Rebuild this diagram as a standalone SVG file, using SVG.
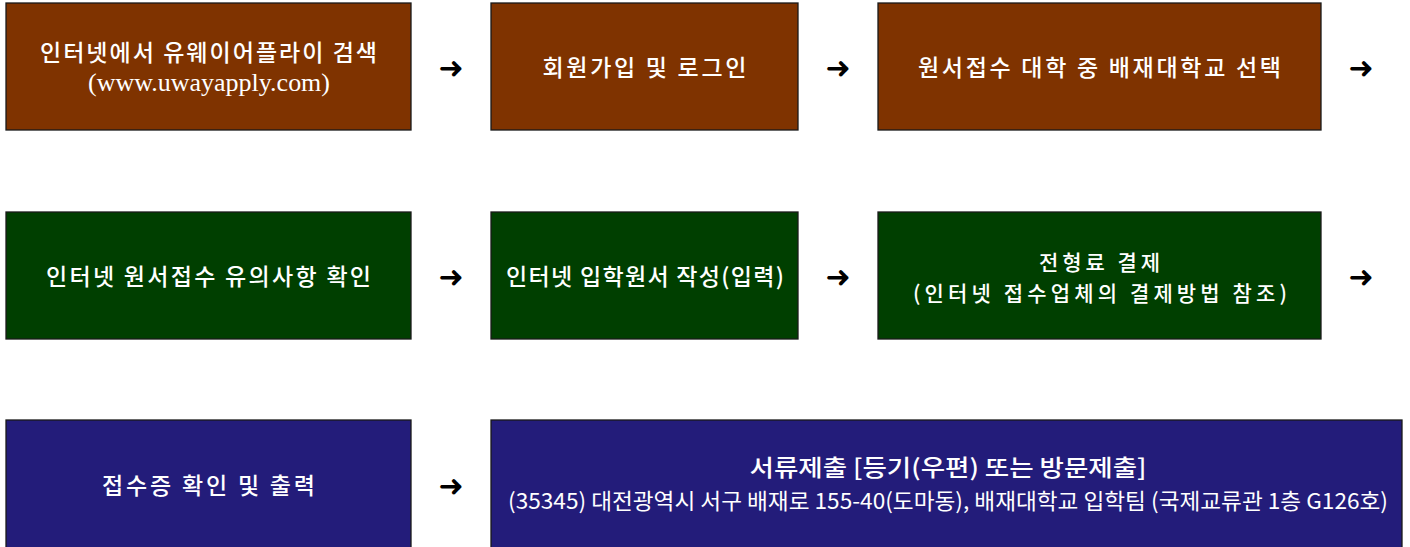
<svg xmlns="http://www.w3.org/2000/svg" width="1410" height="547" viewBox="0 0 1410 547">
<style>
.box{stroke:#1a1a1a;stroke-width:1.3}
.brown{fill:#7f3300}
.green{fill:#003f00}
.navy{fill:#231c7a}
.t{font-family:"Noto Sans CJK KR","Noto Sans",sans-serif;font-size:23px;font-weight:500;fill:#ffffff;text-anchor:middle}
.t2{font-size:21px}
.s{font-family:"Liberation Serif","Noto Sans CJK KR",serif;font-size:25px;fill:#ffffff;text-anchor:middle}
.a{font-family:"DejaVu Sans",sans-serif;font-size:30px;font-weight:bold;fill:#000000;text-anchor:middle}
</style>
<rect width="1410" height="547" fill="#ffffff"/>
<g id="n1"><rect class="box brown" x="6" y="3" width="405" height="127"/>
<text class="t" x="208.5" y="61" textLength="337" lengthAdjust="spacing">인터넷에서 유웨이어플라이 검색</text>
<text class="s" x="209" y="91" textLength="242" lengthAdjust="spacingAndGlyphs">(www.uwayapply.com)</text></g>
<g id="n2"><rect class="box brown" x="491" y="3" width="307" height="127"/>
<text class="t" x="644.5" y="76" textLength="204" lengthAdjust="spacing">회원가입 및 로그인</text></g>
<g id="n3"><rect class="box brown" x="878" y="3" width="443" height="127"/>
<text class="t" x="1099.5" y="76" textLength="363" lengthAdjust="spacing">원서접수 대학 중 배재대학교 선택</text></g>
<g id="n4"><rect class="box green" x="6" y="212" width="405" height="127"/>
<text class="t" x="208.5" y="285" textLength="325" lengthAdjust="spacing">인터넷 원서접수 유의사항 확인</text></g>
<g id="n5"><rect class="box green" x="491" y="212" width="307" height="127"/>
<text class="t" x="645" y="285" textLength="278" lengthAdjust="spacing">인터넷 입학원서 작성(입력)</text></g>
<g id="n6"><rect class="box green" x="878" y="212" width="443" height="127"/>
<text class="t t2" x="1099.5" y="270" textLength="121" lengthAdjust="spacing">전형료 결제</text>
<text class="t t2" x="1100" y="301" textLength="374" lengthAdjust="spacing">(인터넷 접수업체의 결제방법 참조)</text></g>
<g id="n7"><rect class="box navy" x="6" y="420" width="405" height="140"/>
<text class="t" x="208.5" y="494" textLength="213" lengthAdjust="spacing">접수증 확인 및 출력</text></g>
<g id="n8"><rect class="box navy" x="491" y="420" width="911" height="140"/>
<text class="t" x="948" y="476" textLength="397" lengthAdjust="spacingAndGlyphs">서류제출 [등기(우편) 또는 방문제출]</text>
<text class="t" x="948" y="509" style="font-weight:400;font-size:22px" textLength="880" lengthAdjust="spacingAndGlyphs">(35345) 대전광역시 서구 배재로 155-40(도마동), 배재대학교 입학팀 (국제교류관 1층 G126호)</text></g>
<g id="connectors">
<text class="a" x="451" y="78">➜</text>
<text class="a" x="838" y="78">➜</text>
<text class="a" x="1361" y="78">➜</text>
<text class="a" x="451" y="287">➜</text>
<text class="a" x="838" y="287">➜</text>
<text class="a" x="1361" y="287">➜</text>
<text class="a" x="451" y="496">➜</text>
</g>
</svg>
